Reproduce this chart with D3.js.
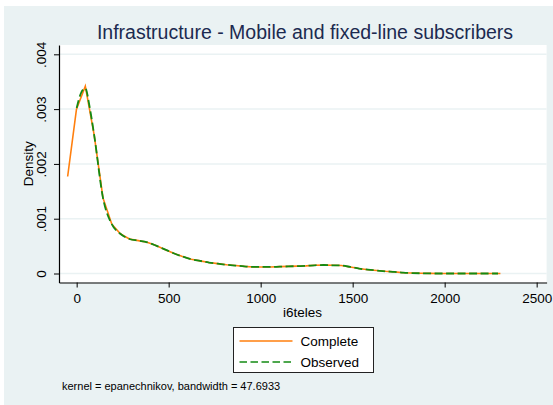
<!DOCTYPE html>
<html>
<head>
<meta charset="utf-8">
<script src="https://cdn.jsdelivr.net/npm/d3@7"></script>
<style>
  body { margin: 0; background: #ffffff; }
  text { font-family: "Liberation Sans", Arial, sans-serif; }
</style>
</head>
<body>
<div id="chart"></div>
<script>
// kdensity grid for all subscribers (Complete)
const completeX = [-49, -1, 47, 95, 143, 191, 239, 287, 335, 383, 431, 479, 527, 575, 623, 671,
  719, 767, 815, 863, 911, 959, 1007, 1055, 1103, 1151, 1199, 1247, 1295, 1343, 1391, 1439,
  1487, 1535, 1583, 1631, 1679, 1727, 1775, 1823, 1871, 1919, 1967, 2015, 2063, 2111, 2159,
  2207, 2255, 2303];
const completeY = [1.77, 3.0, 3.42, 2.53, 1.38, 0.90, 0.72, 0.63, 0.60, 0.57, 0.51, 0.44, 0.37,
  0.31, 0.26, 0.23, 0.20, 0.18, 0.16, 0.145, 0.13, 0.12, 0.12, 0.12, 0.125, 0.13, 0.135, 0.14,
  0.15, 0.155, 0.15, 0.145, 0.12, 0.09, 0.07, 0.055, 0.04, 0.03, 0.015, 0.008, 0.004, 0.002,
  0.0, 0.0, 0.0, 0.0, 0.0, 0.0, 0.0, 0.0];

// observed values only
const observedX = [0, 22, 47, 70, 95, 143, 191, 239, 287, 335, 383, 431, 479, 527, 575, 623, 671,
  719, 767, 815, 863, 911, 959, 1007, 1055, 1103, 1151, 1199, 1247, 1295, 1343, 1391, 1439,
  1487, 1535, 1583, 1631, 1679, 1727, 1775, 1823, 1871, 1919, 1967, 2015, 2063, 2111, 2159,
  2207, 2255, 2290];
const observedY = [3.02, 3.28, 3.38, 3.05, 2.53, 1.38, 0.90, 0.72, 0.63, 0.60, 0.57, 0.51, 0.44,
  0.37, 0.31, 0.26, 0.23, 0.20, 0.18, 0.16, 0.145, 0.13, 0.12, 0.12, 0.12, 0.125, 0.13, 0.135,
  0.14, 0.15, 0.155, 0.15, 0.145, 0.12, 0.09, 0.07, 0.055, 0.04, 0.03, 0.015, 0.008, 0.004,
  0.002, 0.0, 0.0, 0.0, 0.0, 0.0, 0.0, 0.0, 0.0];

const xTicks = [0, 500, 1000, 1500, 2000, 2500];
const yTicks = [0, 0.001, 0.002, 0.003, 0.004];
const yTickLabels = ["0", ".001", ".002", ".003", ".004"];

const svg_width = 553;
const svg_height = 405;
const plot = { left: 59, right: 546.6, top: 45, bottom: 282.5 };
const bgColor = "#eaf2f3";
const colorComplete = "#ff7f0e";
const colorObserved = "#138a13";

const svg = d3.select("#chart")
  .append("svg")
  .attr("width", svg_width)
  .attr("height", svg_height);

// graph region
svg.append("rect")
  .attr("x", 4).attr("y", 6)
  .attr("width", svg_width - 4).attr("height", svg_height - 6)
  .attr("fill", bgColor);

svg.append("rect")
  .attr("x", plot.left).attr("y", plot.top)
  .attr("width", plot.right - plot.left).attr("height", plot.bottom - plot.top)
  .attr("fill", "#ffffff");

var x = d3.scaleLinear().domain([-96, 2554]).range([plot.left, plot.right]);
var y = d3.scaleLinear().domain([-0.000164, 0.00417]).range([plot.bottom, plot.top]);

// gridlines
svg.selectAll(".grid")
  .data(yTicks)
  .enter()
  .append("line")
  .attr("class", "grid")
  .attr("x1", plot.left).attr("x2", plot.right)
  .attr("y1", d => y(d)).attr("y2", d => y(d))
  .attr("stroke", bgColor)
  .attr("stroke-width", 1.5);

// curves
const line = d3.line()
  .x(d => x(d[0]))
  .y(d => y(d[1] / 1000));

svg.append("path")
  .datum(completeX.map((v, i) => [v, completeY[i]]))
  .attr("d", line)
  .attr("fill", "none")
  .attr("stroke", colorComplete)
  .attr("stroke-width", 1.6);

svg.append("path")
  .datum(observedX.map((v, i) => [v, observedY[i]]))
  .attr("d", line.curve(d3.curveMonotoneX))
  .attr("fill", "none")
  .attr("stroke", colorObserved)
  .attr("stroke-width", 1.8)
  .attr("stroke-dasharray", "8,3.5");

// axes
const xAxis = svg.append("g")
  .attr("transform", "translate(0," + plot.bottom + ")")
  .call(d3.axisBottom(x).tickValues(xTicks).tickSize(5).tickPadding(6).tickSizeOuter(0)
    .tickFormat(d3.format("d")));

const yAxis = svg.append("g")
  .attr("transform", "translate(" + plot.left + ",0)")
  .call(d3.axisLeft(y).tickValues(yTicks).tickSize(5).tickSizeOuter(0)
    .tickFormat((d, i) => yTickLabels[i]));

[xAxis, yAxis].forEach(g => {
  g.select(".domain").attr("stroke", "#000").attr("stroke-width", 1.2);
  g.selectAll(".tick line").attr("stroke", "#000");
  g.selectAll(".tick text")
    .attr("fill", "#000")
    .style("font-size", "13.5px")
    .style("font-family", "'Liberation Sans', Arial, sans-serif");
});

yAxis.selectAll(".tick text")
  .attr("x", 0)
  .attr("dy", 0)
  .attr("text-anchor", "middle")
  .attr("transform", "translate(-13,0) rotate(-90)");

// axis titles
svg.append("text")
  .attr("x", 302.5).attr("y", 317)
  .attr("text-anchor", "middle")
  .style("font-size", "13.5px")
  .attr("fill", "#000")
  .text("i6teles");

svg.append("text")
  .attr("transform", "translate(33," + (plot.top + plot.bottom) / 2 + ") rotate(-90)")
  .attr("text-anchor", "middle")
  .style("font-size", "13.5px")
  .attr("fill", "#000")
  .text("Density");

// title
svg.append("text")
  .attr("x", 305).attr("y", 38.5)
  .attr("text-anchor", "middle")
  .style("font-size", "19.5px")
  .attr("fill", "#1c2a50")
  .text("Infrastructure - Mobile and fixed-line subscribers");

// legend
const legend = svg.append("g").attr("transform", "translate(233.5,327.5)");
legend.append("rect")
  .attr("width", 140).attr("height", 45)
  .attr("fill", "#fff")
  .attr("stroke", "#222")
  .attr("stroke-width", 1);

const legendItems = [
  { label: "Complete", color: colorComplete, dash: null },
  { label: "Observed", color: colorObserved, dash: "7.5,3.5" }
];

legendItems.forEach((d, i) => {
  const yy = 13.5 + i * 21;
  legend.append("line")
    .attr("x1", 6).attr("x2", 59)
    .attr("y1", yy).attr("y2", yy)
    .attr("stroke", d.color)
    .attr("stroke-width", 1.6)
    .attr("stroke-dasharray", d.dash);
  legend.append("text")
    .attr("x", 67).attr("y", yy + 5)
    .style("font-size", "13.5px")
    .attr("fill", "#000")
    .text(d.label);
});

// note
svg.append("text")
  .attr("x", 62).attr("y", 390)
  .style("font-size", "11px")
  .attr("fill", "#000")
  .text("kernel = epanechnikov, bandwidth = 47.6933");
</script>
</body>
</html>
